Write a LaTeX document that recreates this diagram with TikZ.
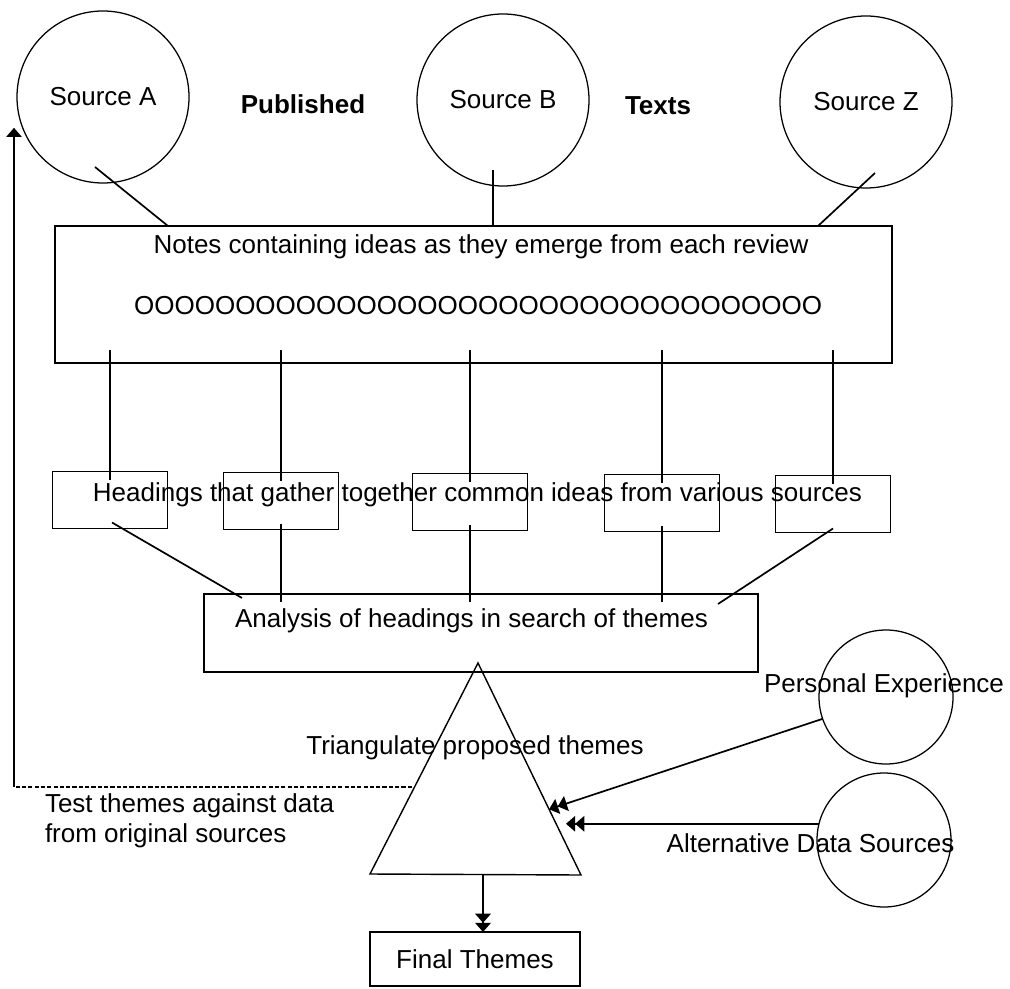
\documentclass[tikz,border=0pt]{standalone}
\usepackage{fontspec}
\setmainfont{Liberation Sans}
\usetikzlibrary{arrows.meta,calc}
\newcommand\mainsize{\fontsize{18.5}{21}\selectfont}

\begin{document}
\begin{tikzpicture}[x=0.25mm, y=-0.25mm, >={Triangle[length=6.5pt,width=11pt]},
    every node/.style={font=\mainsize, inner sep=0pt, outer sep=0pt},
    srccircle/.style={draw, circle, line width=0.9pt, minimum size=43mm},
    sidecircle/.style={draw, circle, line width=0.9pt, minimum size=33.5mm},
    plainbox/.style={draw, rectangle, line width=1.2pt},
    conn/.style={line width=1.2pt}]
  \useasboundingbox (0,0) rectangle (1010,988);

  % published texts
  \node[srccircle] (srcA) at (103,97) {Source A};
  \node[srccircle] (srcB) at (503,100) {Source B};
  \node[srccircle] (srcZ) at (866,102) {Source Z};
  \node[font=\mainsize\bfseries] (pub) at (303,104) {Published};
  \node[font=\mainsize\bfseries] (texts) at (658,106) {Texts};

  % notes
  \node[plainbox, minimum width=209.25mm, minimum height=34.25mm] (notes) at (473.5,294.5) {};
  \node (notehead) at (481,247) {Notes containing ideas as they emerge from each review};
  \node (noterow) at (478,306) {OOOOOOOOOOOOOOOOOOOOOOOOOOOOOOOOOO};
  \draw[conn] ($(srcA.center)+(-8,70)$) -- ($(notes.north west)+(113,0)$);
  \draw[conn] ($(srcB.center)+(-10,70)$) coordinate (bFoot) -- (bFoot |- notes.north);
  \draw[conn] ($(srcZ.center)+(9,71)$) -- ($(notes.north west)+(763,0)$);

  % headings
  \foreach \i/\x/\y in {1/110/500,2/281/501,3/470/502,4/662/503,5/833/504}
    \node[plainbox, minimum width=28.75mm, minimum height=14.25mm] (hd\i) at (\x,\y) {};
  \node (hdtxt) at (477.5,495) {Headings that gather together common ideas from various sources};
  \foreach \i in {1,...,5}
    \draw[conn] ($(notes.south -| hd\i.north)+(0,-13)$) -- ($(hd\i.north)+(0,8)$);

  % analysis
  \node[plainbox, minimum width=138.5mm, minimum height=19.5mm] (ana) at (481,633) {};
  \node (anatxt) at (471.5,621) {Analysis of headings in search of themes};
  \draw[conn] ($(hd1.south)+(2,-6)$) -- ($(ana.north west)+(38,4)$);
  \foreach \i in {2,3,4}
    \draw[conn] ($(hd\i.south)+(0,-6)$) -- ($(hd\i.south |- ana.north)+(0,8)$);
  \draw[conn] ($(hd5.south)+(0,-4)$) -- ($(ana.north east)+(-40,10)$);

  % triangulation
  \coordinate (triTop) at (478,663);
  \coordinate (triBL) at (370,874);
  \coordinate (triBR) at (581,875);
  \draw[line width=1pt] (triTop) -- (triBR) -- (triBL) -- cycle;
  \node (tritxt) at (475,748) {Triangulate proposed themes};

  \node[sidecircle] (pe) at (886,697) {};
  \node (petxt) at (884,686) {Personal Experience};
  \node[sidecircle] (ads) at (884,840) {};
  \node (adstxt) at (810.5,843) {Alternative Data Sources};
  \coordinate (peTip) at ($(triTop)!0.69!(triBR)$);
  \coordinate (adsTip) at (566,823);
  \draw[conn, ->>] (pe.199) -- (peTip);
  \draw[conn, ->>] (ads.166) -- (ads.166 -| adsTip);

  % feedback to sources
  \coordinate (fbStart) at (412,787);
  \coordinate (fbCorner) at (14,787);
  \draw[line width=0.8pt, dash pattern=on 3pt off 1.5pt] (fbStart) -- (fbCorner);
  \draw[line width=0.8pt, ->] (fbCorner) -- (fbCorner |- srcA.201);
  \node[anchor=north west, align=left] (testtxt) at (45,794) {Test themes against data\\from original sources};

  % result
  \node[plainbox, minimum width=52.5mm, minimum height=13.5mm] (final) at (475,959) {Final Themes};
  \coordinate (triFoot) at (483,875);
  \draw[conn, ->>] (triFoot) -- (triFoot |- final.north);
\end{tikzpicture}
\end{document}
